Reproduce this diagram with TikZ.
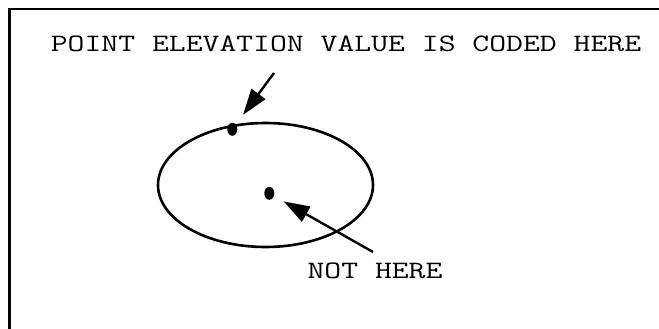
\documentclass[tikz,border=0pt]{standalone}
\usepackage{fontspec}
\usetikzlibrary{arrows.meta,shapes.geometric}
\begin{document}
\begin{tikzpicture}[x=1pt,y=-1pt,
  lbl/.style={anchor=base,inner sep=0pt,font=\fontsize{25}{28}\selectfont\ttfamily},
  dotm/.style={ellipse,fill=black,draw=none,inner sep=0pt,minimum width=10pt,minimum height=13pt},
  ptr/.style={line width=2.4pt,-{Triangle[length=26pt,width=17pt]}}]
\useasboundingbox (0,0) rectangle (659,329);
\draw[line width=2.4pt] (9.3,329) -- (9.3,9.3) -- (659,9.3);
\node[lbl] (top) at (346,52) {\scalebox{1.31}[1]{POINT ELEVATION VALUE IS CODED HERE}};
\node[lbl] (not) at (375,278) {\scalebox{1.31}[1]{NOT HERE}};
\draw[line width=2.6pt] (265.5,185) ellipse [x radius=107.5, y radius=62];
\node[dotm] (d1) at (232.3,129.3) {};
\node[dotm] (d2) at (269.3,193.3) {};
\coordinate (t1) at (274,73);
\coordinate (t2) at (373,252);
\draw[ptr,shorten >=12pt] (t1) -- (d1);
\draw[ptr,shorten >=11pt] (t2) -- (d2);
\end{tikzpicture}
\end{document}
